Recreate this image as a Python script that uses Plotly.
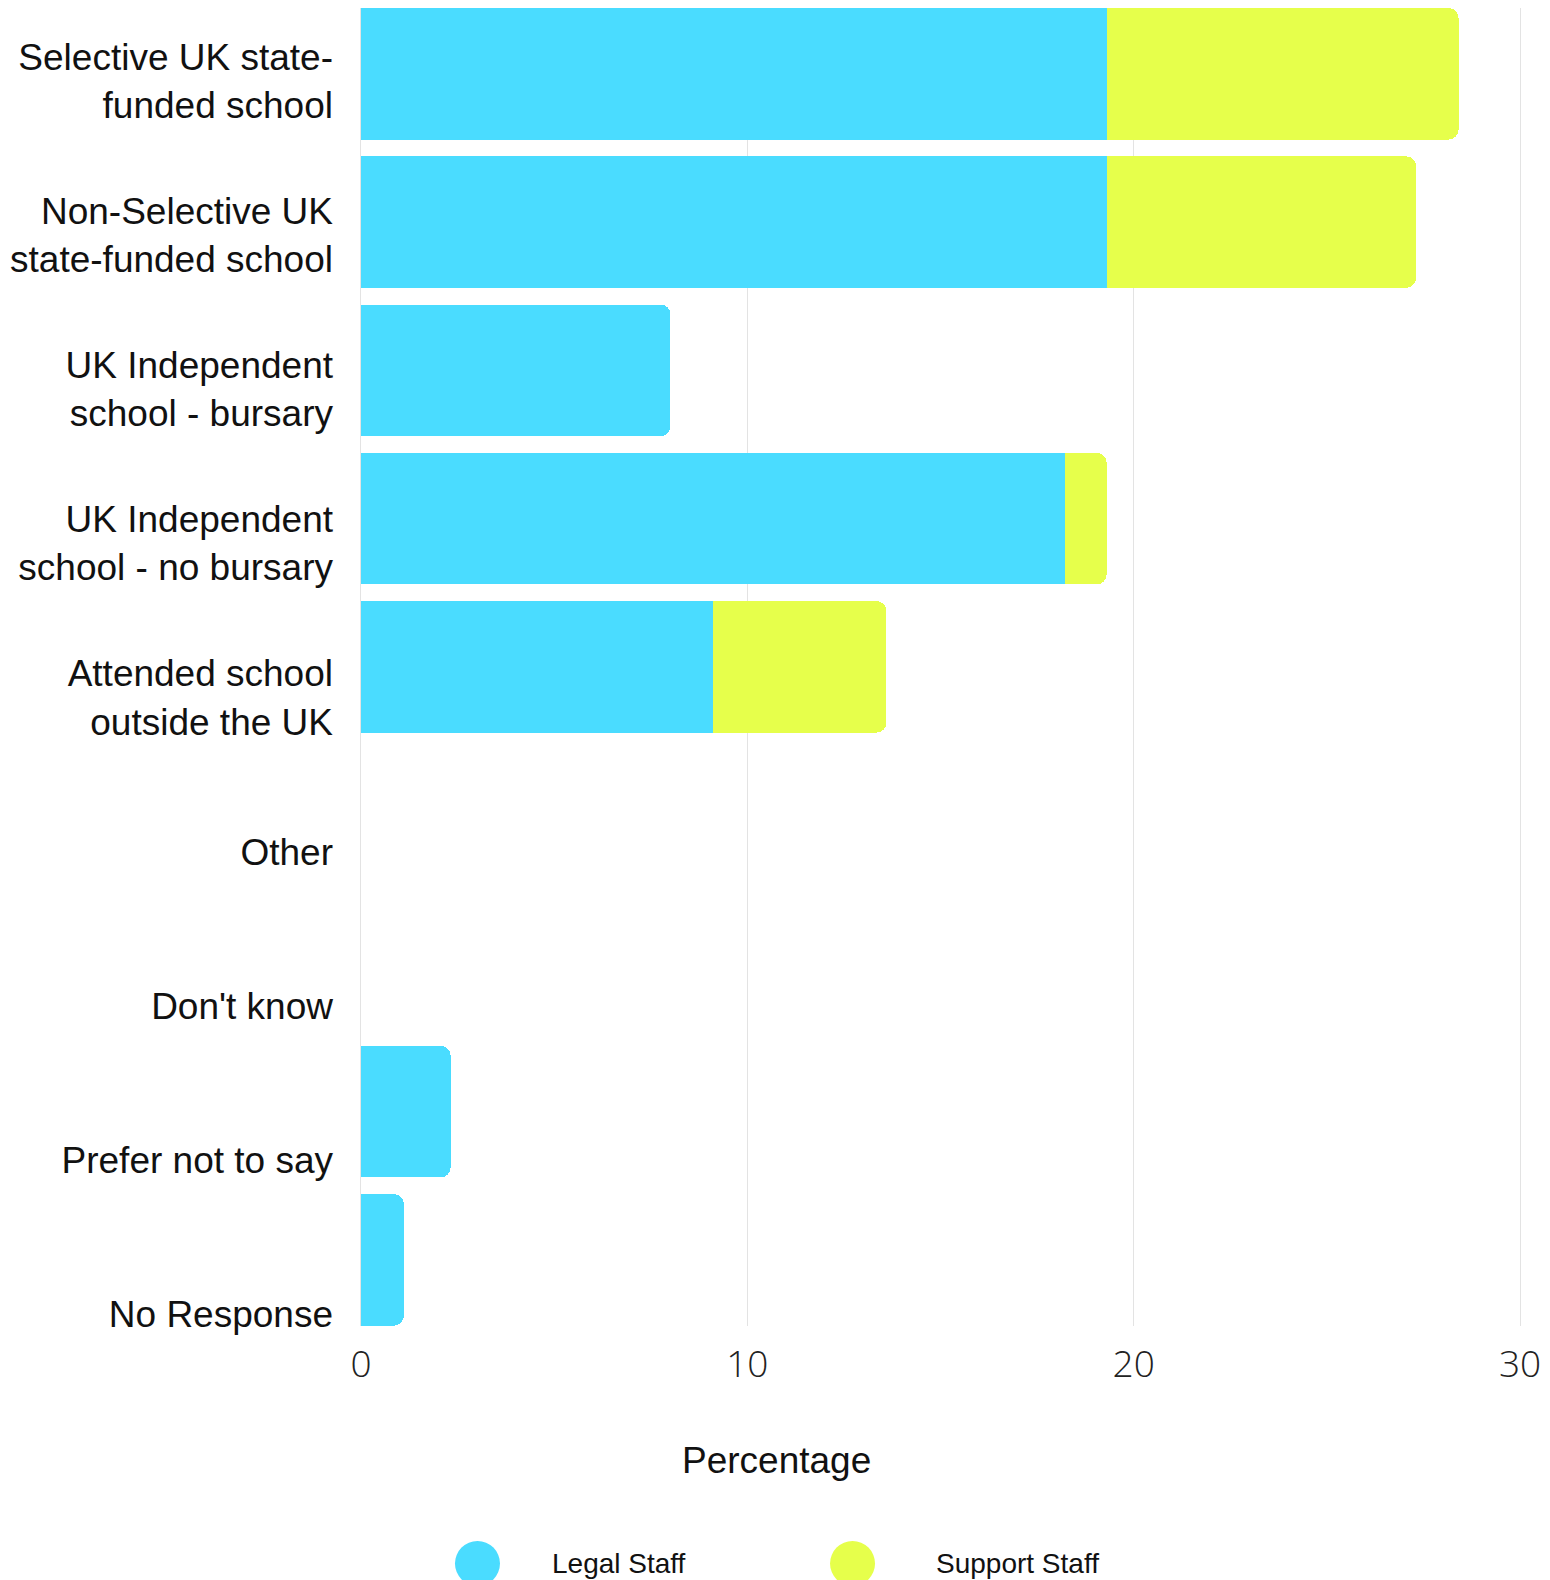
import plotly.graph_objects as go

categories = [
    "Selective UK state-<br>funded school",
    "Non-Selective UK<br>state-funded school",
    "UK Independent<br>school - bursary",
    "UK Independent<br>school - no bursary",
    "Attended school<br>outside the UK",
    "Other",
    "Don't know",
    "Prefer not to say",
    "No Response",
]
legal_staff = [19.32, 19.32, 8.01, 18.23, 9.11, 0, 0, 2.32, 1.11]
support_staff = [9.09, 7.99, 0, 1.07, 4.49, 0, 0, 0, 0]
x_ticks = [0, 10, 20, 30]
series_names = ["Legal Staff", "Support Staff"]

LEGAL = "#4ADCFF"
SUPPORT = "#E6FF4B"
GRID = "#e3e3e3"

fig = go.Figure()
fig.add_trace(go.Bar(y=categories, x=legal_staff, orientation="h", name=series_names[0],
                     marker=dict(color=LEGAL, line=dict(width=0)), showlegend=False))
fig.add_trace(go.Bar(y=categories, x=support_staff, orientation="h", name=series_names[1],
                     marker=dict(color=SUPPORT, line=dict(width=0)), showlegend=False))
# invisible trace carrying the category labels on the label axis
fig.add_trace(go.Scatter(y=categories, x=[0] * len(categories), yaxis="y2", mode="markers",
                         marker=dict(opacity=0), hoverinfo="skip", showlegend=False))

fig.update_layout(
    width=1542, height=1572,
    margin=dict(l=353, r=30, t=0, b=254),
    paper_bgcolor="white", plot_bgcolor="white",
    barmode="stack", bargap=0.112, barcornerradius=10,
    font=dict(family="Liberation Sans, Arial, sans-serif", color="#111111"),
    xaxis=dict(range=[0, 30], tickvals=x_ticks, showgrid=True, gridcolor=GRID, gridwidth=1,
               zeroline=False, showline=False, ticks="",
               tickfont=dict(family="Open Sans", size=37, color="#222222", weight=300),
               ticklabelstandoff=13),
    yaxis=dict(type="category", categoryorder="array", categoryarray=categories,
               range=[8.446, -0.444], showticklabels=False, showgrid=False, zeroline=False,
               showline=True, mirror=True, linecolor=GRID, linewidth=1, ticks=""),
    yaxis2=dict(type="category", categoryorder="array", categoryarray=categories,
                overlaying="y", side="left", range=[8.076, -0.472], showgrid=False,
                zeroline=False, showline=False, ticks="", ticklabelstandoff=27,
                tickfont=dict(family="Liberation Sans, Arial", size=37, color="#111111")),
)

# axis title
fig.add_annotation(text="Percentage", xref="paper", yref="paper", x=0.3589, y=-0.1024,
                   xanchor="center", yanchor="middle", showarrow=False,
                   font=dict(family="Liberation Sans, Arial", size=37, color="#111111"))

# legend (drawn manually, circular swatches)
legend_items = [(series_names[0], LEGAL, 0.1005, 0.1631), (series_names[1], SUPPORT, 0.4241, 0.4944)]
ly = -0.1802
for name, col, cx, tx in legend_items:
    fig.add_shape(type="circle", xref="paper", yref="paper", xsizemode="pixel", ysizemode="pixel",
                  xanchor=cx, yanchor=ly, x0=-22.5, x1=22.5, y0=-22.5, y1=22.5,
                  fillcolor=col, line=dict(width=0))
    fig.add_annotation(text=name, xref="paper", yref="paper", x=tx, y=ly, xanchor="left",
                       yanchor="middle", showarrow=False,
                       font=dict(family="Liberation Sans, Arial", size=28, color="#111111"))

fig.write_html("out.html")
